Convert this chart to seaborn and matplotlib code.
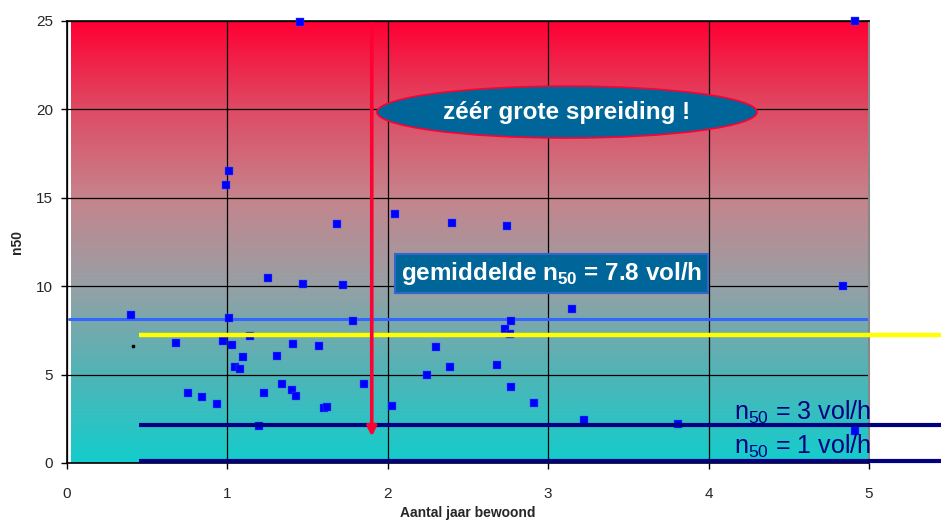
import numpy as np
import pandas as pd
import matplotlib
matplotlib.use("Agg")
import matplotlib.pyplot as plt
from matplotlib.patches import Ellipse
from matplotlib.colors import LinearSegmentedColormap
import seaborn as sns

# Measured dwellings: years occupied vs. air-tightness n50 (1/h)
jaren = [0.40, 1.01, 1.78, 1.14, 1.25, 1.47, 1.72, 0.68, 0.975, 1.03,
         1.10, 1.05, 1.08, 1.31, 1.41, 1.57, 0.756, 0.84, 0.937, 1.23,
         1.34, 1.40, 1.43, 1.60, 1.62, 1.197, 1.455, 1.012, 0.993, 1.685,
         2.047, 2.40, 2.745, 1.853, 2.026, 2.30, 2.246, 2.39, 2.68, 2.77,
         2.73, 2.76, 2.77, 2.91, 3.15, 3.225, 4.84, 3.81, 4.915, 4.915]
n50 = [8.37, 8.18, 8.03, 7.20, 10.45, 10.10, 10.05, 6.77, 6.90, 6.65,
       5.98, 5.41, 5.30, 6.03, 6.71, 6.60, 3.94, 3.73, 3.32, 3.94,
       4.45, 4.11, 3.79, 3.10, 3.15, 2.07, 24.93, 16.50, 15.70, 13.50,
       14.07, 13.56, 13.42, 4.45, 3.22, 6.54, 4.96, 5.41, 5.52, 8.05,
       7.58, 7.27, 4.28, 3.38, 8.71, 2.43, 9.99, 2.20, 1.79, 24.98]
extra_x = [0.41]
extra_y = [6.60]

gemiddelde = 8.14        # mean line
trend = 7.24             # yellow reference
grens = [3, 1]           # target values (labels)
grens_y = [2.15, 0.11]   # drawn positions of the target lines

x_ticks = [0, 1, 2, 3, 4, 5]
y_ticks = [0, 5, 10, 15, 20, 25]

sns.set_style("white")
plt.rcParams["font.family"] = ["Liberation Sans", "DejaVu Sans"]
plt.rcParams["mathtext.fontset"] = "custom"
plt.rcParams["mathtext.rm"] = "Liberation Sans"
plt.rcParams["mathtext.bf"] = "Liberation Sans:bold"

fig = plt.figure(figsize=(9.41, 5.24), dpi=100)
ax = fig.add_axes([67 / 941, 1 - 463 / 524, (869 - 67) / 941, (463 - 21) / 524])

# vertical background gradient: cyan at the bottom, grey, red at the top
cmap = LinearSegmentedColormap.from_list(
    "bg",
    [(0.0, (20/255, 205/255, 205/255)),
     (0.2, (80/255, 180/255, 182/255)),
     (0.4, (150/255, 160/255, 165/255)),
     (0.6, (198/255, 132/255, 140/255)),
     (0.8, (222/255, 75/255, 100/255)),
     (1.0, (255/255, 0/255, 51/255))])
grad = np.linspace(0, 1, 256).reshape(-1, 1)
ax.imshow(grad, extent=[0.025, 4.99, 0, 25], origin="lower", aspect="auto",
          cmap=cmap, zorder=0, interpolation="bilinear")

ax.set_xlim(0, 5)
ax.set_ylim(0, 25)
ax.set_xticks(x_ticks)
ax.set_yticks(y_ticks)
ax.grid(True, color="black", linewidth=0.9)
ax.set_axisbelow(True)
for side in ["left", "bottom", "top"]:
    ax.spines[side].set_color("black")
    ax.spines[side].set_linewidth(1.2)
ax.spines["right"].set_color("#888888")
ax.spines["right"].set_linewidth(1.5)
ax.tick_params(axis="both", direction="out", length=4, width=1,
               color="black", labelsize=11, left=True, bottom=True)
ax.tick_params(axis="x", pad=13)
ax.tick_params(axis="y", pad=6)

# mean line (under the points)
ax.plot([0.01, 4.99], [gemiddelde, gemiddelde], color="#3366FF", lw=2.2, zorder=2)

df = pd.DataFrame({"jaar": jaren, "n50": n50})
sns.scatterplot(data=df, x="jaar", y="n50", ax=ax, marker="s", s=30,
                color="#0000FF", edgecolor="#3355FF", linewidth=0.3,
                zorder=3, clip_on=False)
ax.scatter(extra_x, extra_y, marker="s", s=2, color="black", zorder=3)

# reference lines on top of the points, running past the plot area
ax.plot([0.45, 5.47], [trend, trend], color="#FFFF00", lw=3.2, zorder=4,
        clip_on=False, solid_capstyle="butt")
for gy in grens_y:
    ax.plot([0.45, 5.47], [gy, gy], color="#000080", lw=3.0, zorder=4,
            clip_on=False, solid_capstyle="butt")

ax.text(4.16, 2.85, r"n$_{50}$ = %d vol/h" % grens[0], color="#000080",
        fontsize=18, ha="left", va="center", zorder=6)
ax.text(4.16, 0.95, r"n$_{50}$ = %d vol/h" % grens[1], color="#000080",
        fontsize=18, ha="left", va="center", zorder=6)

# spread arrow
ax.annotate("", xy=(1.90, 1.5), xytext=(1.90, 24.85),
            arrowprops=dict(arrowstyle="-|>", color="#FF0033", lw=2.6,
                            mutation_scale=14, shrinkA=0, shrinkB=0),
            zorder=5)

# callouts
ell = Ellipse((3.117, 19.85), 2.37, 2.94, facecolor="#006699",
              edgecolor="#FF0033", lw=1.2, zorder=6)
ax.add_patch(ell)
ax.text(3.117, 19.85, "zéér grote spreiding !", color="white",
        fontsize=17.5, fontweight="bold", ha="center", va="center", zorder=7)

ax.text(3.02, 10.72, r"gemiddelde n$_{\mathbf{50}}$ = 7.8 vol/h", color="white",
        fontsize=17.5, fontweight="bold", ha="center", va="center", zorder=7,
        bbox=dict(boxstyle="square,pad=0.25", facecolor="#006699",
                  edgecolor="#3366CC", lw=1.5))

ax.set_xlabel("Aantal jaar bewoond", fontsize=10, fontweight="bold", labelpad=4)
ax.set_ylabel("n50", fontsize=10, fontweight="bold", labelpad=9)

fig.savefig("out.png", dpi=100)
